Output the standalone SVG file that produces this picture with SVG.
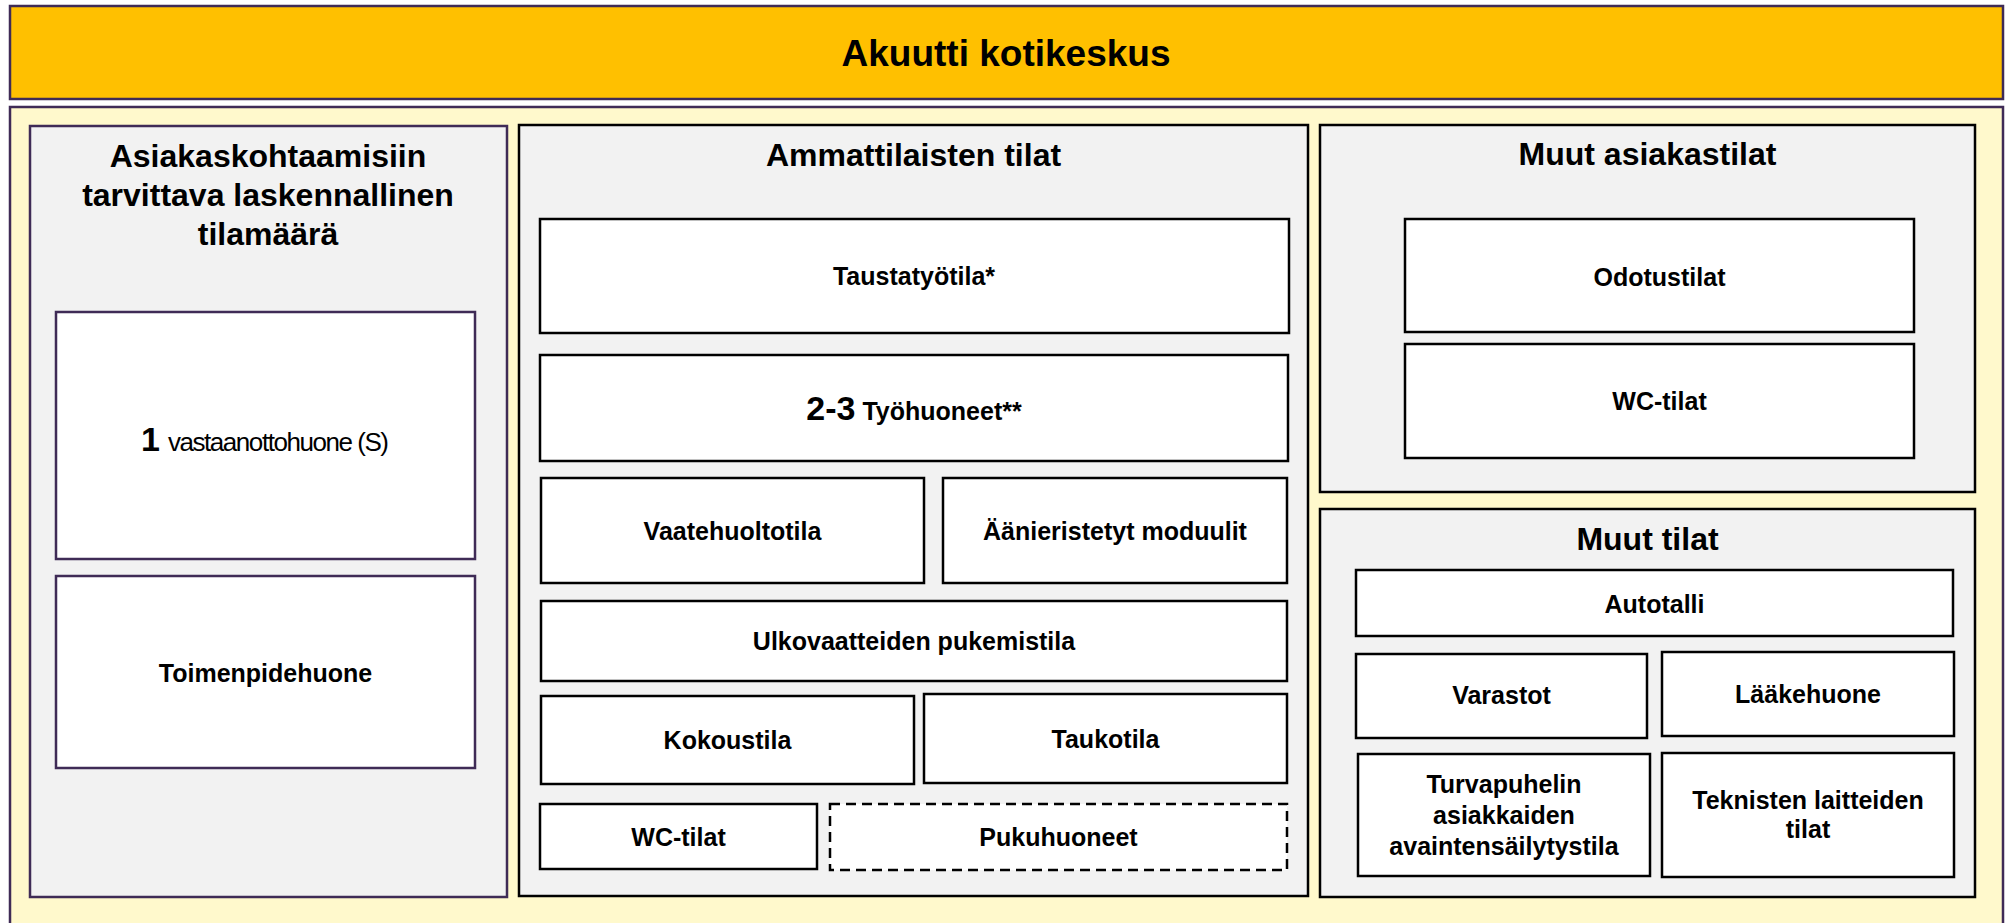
<svg xmlns="http://www.w3.org/2000/svg" width="2009" height="923" viewBox="0 0 2009 923">
<style>
.hdr{fill:#FFC000;stroke:#3F2B56;stroke-width:2.5}
.cream{fill:#FFF9CC;stroke:#3F2B56;stroke-width:2.5}
.panel{fill:#F2F2F2;stroke:#000;stroke-width:2.5}
.panelp{fill:#F2F2F2;stroke:#3F2B56;stroke-width:2.5}
.box{fill:#fff;stroke:#000;stroke-width:2.5}
.boxp{fill:#fff;stroke:#3F2B56;stroke-width:2.5}
.dash{fill:#fff;stroke:#000;stroke-width:2.5;stroke-dasharray:10 6}
text{font-family:"Liberation Sans",Arial,Helvetica,sans-serif;fill:#000}
.t{font-weight:bold;text-anchor:middle}
.h37{font-size:37px}
.h32{font-size:32px}
.l25{font-size:25px}
</style>
<rect x="0" y="0" width="2009" height="923" fill="#fff"/>
<g id="header">
<rect class="hdr" x="10" y="6" width="1993" height="93"/>
<text class="t h37" x="1006" y="66">Akuutti kotikeskus</text>
</g>
<g id="container">
<rect class="cream" x="10" y="107" width="1993" height="840"/>
</g>
<g id="panel-asiakaskohtaamiset">
<rect class="panelp" x="30" y="126" width="477" height="771"/>
<text class="t h32" x="268" y="167">Asiakaskohtaamisiin</text>
<text class="t h32" x="268" y="205.5">tarvittava laskennallinen</text>
<text class="t h32" x="268" y="244.5">tilamäärä</text>
</g>
<g id="node-vastaanottohuone">
<rect class="boxp" x="56" y="312" width="419" height="247"/>
<text x="141" y="451" font-size="34" font-weight="bold">1</text>
<text x="168" y="451" font-size="26" textLength="221" lengthAdjust="spacing">vastaanottohuone (S)</text>
</g>
<g id="node-toimenpidehuone">
<rect class="boxp" x="56" y="576" width="419" height="192"/>
<text class="t l25" x="265.5" y="682">Toimenpidehuone</text>
</g>
<g id="panel-ammattilaiset">
<rect class="panel" x="519" y="125" width="789" height="771"/>
<text class="t h32" x="913.5" y="166">Ammattilaisten tilat</text>
</g>
<g id="node-taustatyotila">
<rect class="box" x="540" y="219" width="749" height="114"/>
<text class="t l25" x="914" y="285">Taustatyötila*</text>
</g>
<g id="node-tyohuoneet">
<rect class="box" x="540" y="355" width="748" height="106"/>
<text class="t" x="914" y="420"><tspan font-size="34">2-3</tspan><tspan font-size="25"> Työhuoneet**</tspan></text>
</g>
<g id="node-vaatehuoltotila">
<rect class="box" x="541" y="478" width="383" height="105"/>
<text class="t l25" x="732.5" y="540">Vaatehuoltotila</text>
</g>
<g id="node-aanieristetyt">
<rect class="box" x="943" y="478" width="344" height="105"/>
<text class="t l25" x="1115" y="540">Äänieristetyt moduulit</text>
</g>
<g id="node-ulkovaatteiden">
<rect class="box" x="541" y="601" width="746" height="80"/>
<text class="t l25" x="914" y="650">Ulkovaatteiden pukemistila</text>
</g>
<g id="node-kokoustila">
<rect class="box" x="541" y="696" width="373" height="88"/>
<text class="t l25" x="727.5" y="749">Kokoustila</text>
</g>
<g id="node-taukotila">
<rect class="box" x="924" y="694" width="363" height="89"/>
<text class="t l25" x="1105.5" y="748">Taukotila</text>
</g>
<g id="node-wc-ammattilaiset">
<rect class="box" x="540" y="804" width="277" height="65"/>
<text class="t l25" x="678.5" y="846">WC-tilat</text>
</g>
<g id="node-pukuhuoneet">
<rect class="dash" x="830" y="804" width="457" height="66"/>
<text class="t l25" x="1058.5" y="846">Pukuhuoneet</text>
</g>
<g id="panel-muut-asiakastilat">
<rect class="panel" x="1320" y="125" width="655" height="367"/>
<text class="t h32" x="1647.5" y="165">Muut asiakastilat</text>
</g>
<g id="node-odotustilat">
<rect class="box" x="1405" y="219" width="509" height="113"/>
<text class="t l25" x="1659.5" y="286">Odotustilat</text>
</g>
<g id="node-wc-asiakkaat">
<rect class="box" x="1405" y="344" width="509" height="114"/>
<text class="t l25" x="1659.5" y="410">WC-tilat</text>
</g>
<g id="panel-muut-tilat">
<rect class="panel" x="1320" y="509" width="655" height="388"/>
<text class="t h32" x="1647.5" y="550">Muut tilat</text>
</g>
<g id="node-autotalli">
<rect class="box" x="1356" y="570" width="597" height="66"/>
<text class="t l25" x="1654.5" y="613">Autotalli</text>
</g>
<g id="node-varastot">
<rect class="box" x="1356" y="654" width="291" height="84"/>
<text class="t l25" x="1501.5" y="704">Varastot</text>
</g>
<g id="node-laakehuone">
<rect class="box" x="1662" y="652" width="292" height="84"/>
<text class="t l25" x="1808" y="703">Lääkehuone</text>
</g>
<g id="node-turvapuhelin">
<rect class="box" x="1358" y="754" width="292" height="122"/>
<text class="t l25" x="1504" y="793">Turvapuhelin</text>
<text class="t l25" x="1504" y="824">asiakkaiden</text>
<text class="t l25" x="1504" y="855">avaintensäilytystila</text>
</g>
<g id="node-teknisten">
<rect class="box" x="1662" y="753" width="292" height="124"/>
<text class="t l25" x="1808" y="809">Teknisten laitteiden</text>
<text class="t l25" x="1808" y="838">tilat</text>
</g>
<g id="connectors"></g>
</svg>
